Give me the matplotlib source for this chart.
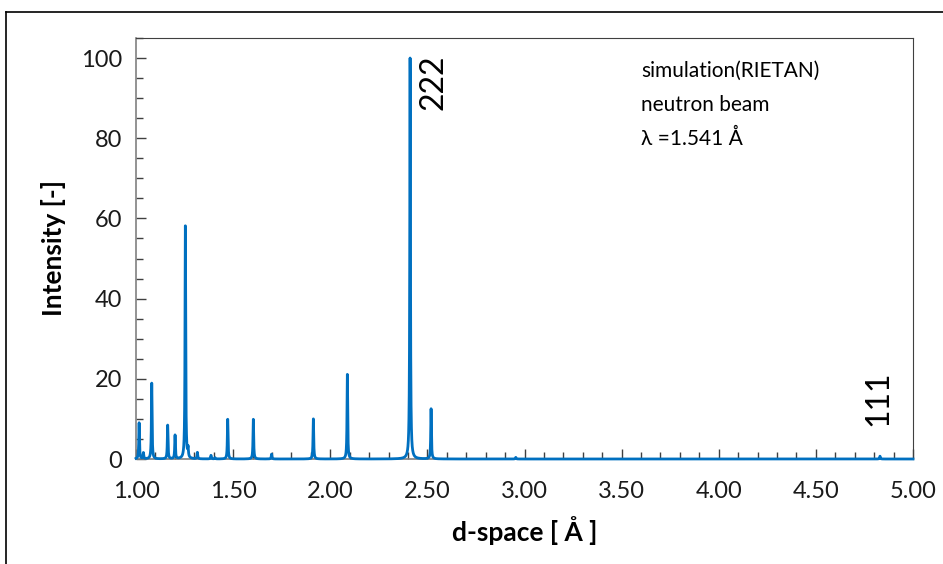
import numpy as np
import matplotlib
matplotlib.use("Agg")
import matplotlib.pyplot as plt
from matplotlib.ticker import MultipleLocator, FormatStrFormatter
from matplotlib.lines import Line2D

plt.rcParams['font.family'] = ['Lato', 'DejaVu Sans']

# Peak list (d-space [Å], relative intensity)
peak_d = [1.016, 1.038, 1.081, 1.163, 1.201, 1.254, 1.268, 1.316, 1.386, 1.407,
          1.472, 1.604, 1.698, 1.913, 2.088, 2.411, 2.519, 2.955, 4.830]
peak_h = [9.0, 1.5, 18.9, 8.4, 5.9, 58.1, 2.2, 1.6, 0.9, 0.3,
          9.9, 9.9, 1.2, 10.0, 21.1, 100.0, 12.5, 0.4, 0.7]
peak_fwhm = 0.004

x_ticks = [1.00, 1.50, 2.00, 2.50, 3.00, 3.50, 4.00, 4.50, 5.00]
y_ticks = [0, 20, 40, 60, 80, 100]

d = np.linspace(1.0, 5.0, 40001)
I = np.zeros_like(d)
g = peak_fwhm / 2
for p, h in zip(peak_d, peak_h):
    I += h / (1 + ((d - p) / g) ** 2)

fig = plt.figure(figsize=(9.43, 5.64), dpi=100)
ax = fig.add_axes([136/943, 1-459/564, (913-136)/943, (459-38)/564])
ax.plot(d, I, color='#0070C0', lw=2.0, zorder=3, clip_on=False)

ax.set_xlim(1.0, 5.0)
ax.set_ylim(0, 105)
ax.set_xticks(x_ticks)
ax.set_yticks(y_ticks)
ax.xaxis.set_major_formatter(FormatStrFormatter('%.2f'))
ax.xaxis.set_minor_locator(MultipleLocator(0.1))
ax.yaxis.set_minor_locator(MultipleLocator(5))
ax.tick_params(axis='both', which='both', direction='in', colors='#404040',
               labelcolor='#1a1a1a', labelsize=17, width=1)
ax.tick_params(axis='both', which='major', length=7)
ax.tick_params(axis='x', which='major', pad=16)
ax.tick_params(axis='y', which='major', pad=10)
ax.tick_params(axis='both', which='minor', length=5)
ax.tick_params(top=False, right=False)

for side in ['left', 'bottom']:
    ax.spines[side].set_color('#808080')
    ax.spines[side].set_linewidth(1.2)
for side in ['top', 'right']:
    ax.spines[side].set_color('#404040')
    ax.spines[side].set_linewidth(0.8)

ax.set_xlabel('d-space [ Å ]', fontsize=19, fontweight='bold', labelpad=10)
ax.set_ylabel('Intensity [-]', fontsize=19, fontweight='bold', labelpad=11)

ax.text(2.455, 101.0, '222', rotation=90, fontsize=23, va='top', ha='left')
ax.text(4.745, 8.3, '111', rotation=90, fontsize=23, va='bottom', ha='left')

ax.text(3.60, 99.2, 'simulation(RIETAN)\nneutron beam\nλ =1.541 Å', fontsize=15,
        va='top', ha='left', linespacing=1.85)

# outer chart frame
fig.add_artist(Line2D([5.5/943, 5.5/943], [0, 1-12/564], color='black', lw=1.2,
                      transform=fig.transFigure))
fig.add_artist(Line2D([5.5/943, 1], [1-12/564, 1-12/564], color='black', lw=1.2,
                      transform=fig.transFigure))

fig.savefig('out.png', dpi=100)
